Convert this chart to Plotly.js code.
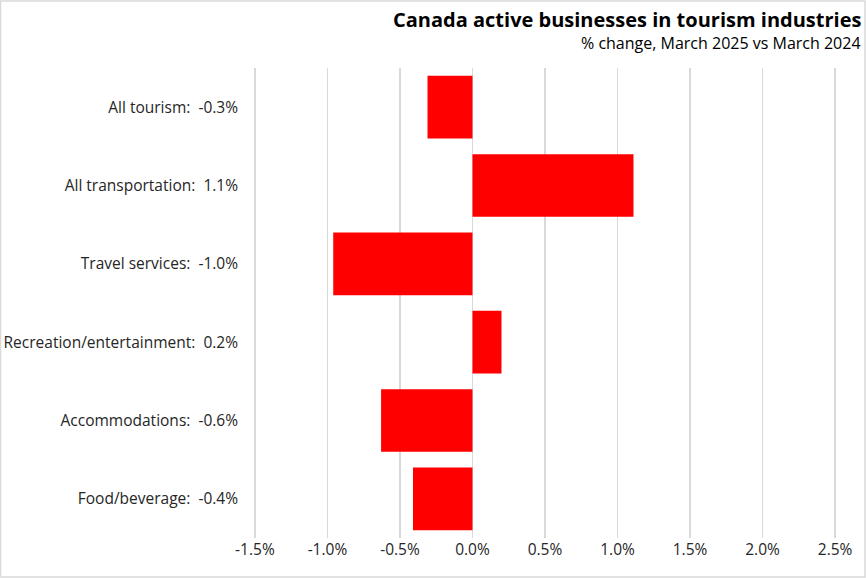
<!DOCTYPE html>
<html>
<head>
<meta charset="utf-8">
<script src="https://cdn.plot.ly/plotly-3.0.1.min.js"></script>
<style>html,body{margin:0;padding:0;background:#fff;}#chart{width:866px;height:578px;}</style>
</head>
<body>
<div id="chart"></div>
<script>
var categories = ["All tourism", "All transportation", "Travel services", "Recreation/entertainment", "Accommodations", "Food/beverage"];
var values = [-0.31, 1.11, -0.96, 0.20, -0.63, -0.41];
var valueLabels = ["-0.3%", "1.1%", "-1.0%", "0.2%", "-0.6%", "-0.4%"];
var xTickVals = [-1.5, -1.0, -0.5, 0.0, 0.5, 1.0, 1.5, 2.0, 2.5];
var xTickText = ["-1.5%", "-1.0%", "-0.5%", "0.0%", "0.5%", "1.0%", "1.5%", "2.0%", "2.5%"];
var titleText = "Canada active businesses in tourism industries";
var subtitleText = "% change, March 2025 vs March 2024";

var yLabels = categories.map(function (c, i) { return c + ":&nbsp; " + valueLabels[i]; });

var FONT = "'Open Sans', 'Noto Sans', sans-serif";

var trace = {
  type: "bar",
  orientation: "h",
  x: values,
  y: categories,
  marker: { color: "#ff0000" },
  hoverinfo: "none"
};

// plot area: 252..838 px for range -1.52..2.52 (145 px per 1%)
var W = 586, H = 470;
var layout = {
  width: 866,
  height: 578,
  margin: { l: 252, r: 28, t: 68, b: 40 },
  paper_bgcolor: "#ffffff",
  plot_bgcolor: "#ffffff",
  showlegend: false,
  bargap: 0.2,
  font: { family: FONT, color: "#262626", size: 15 },
  xaxis: {
    range: [-1.52, 2.52],
    tickvals: xTickVals,
    ticktext: xTickText,
    showgrid: true,
    gridcolor: "#d9d9d9",
    gridwidth: 1.3,
    zeroline: true,
    zerolinecolor: "#d9d9d9",
    zerolinewidth: 1.3,
    showline: false,
    ticks: "",
    tickfont: { size: 15.5, color: "#262626", family: FONT },
    fixedrange: true
  },
  yaxis: {
    type: "category",
    autorange: "reversed",
    tickvals: categories,
    ticktext: yLabels,
    showgrid: false,
    zeroline: false,
    showline: false,
    ticks: "",
    ticklabelstandoff: 13,
    tickfont: { size: 15.5, color: "#262626", family: FONT },
    fixedrange: true
  },
  annotations: [
    {
      xref: "paper", yref: "paper",
      x: 1 + 25 / W, y: 1.0 + (68 - 19) / H,
      xanchor: "right", yanchor: "middle",
      text: "<b>" + titleText + "</b>",
      showarrow: false,
      font: { size: 20, color: "#000000", family: FONT }
    },
    {
      xref: "paper", yref: "paper",
      x: 1 + 25 / W, y: 1.0 + (68 - 43) / H,
      xanchor: "right", yanchor: "middle",
      text: subtitleText,
      showarrow: false,
      font: { size: 16, color: "#000000", family: FONT }
    }
  ],
  shapes: [
    {
      type: "rect", xref: "paper", yref: "paper",
      x0: -251.5 / W, x1: 1 + 27 / W,
      y0: -39 / H, y1: 1 + 67 / H,
      line: { color: "#d9d9d9", width: 1.5 },
      fillcolor: "rgba(0,0,0,0)",
      layer: "below"
    }
  ]
};

Plotly.newPlot("chart", [trace], layout, { displayModeBar: false, staticPlot: true });
</script>
</body>
</html>
